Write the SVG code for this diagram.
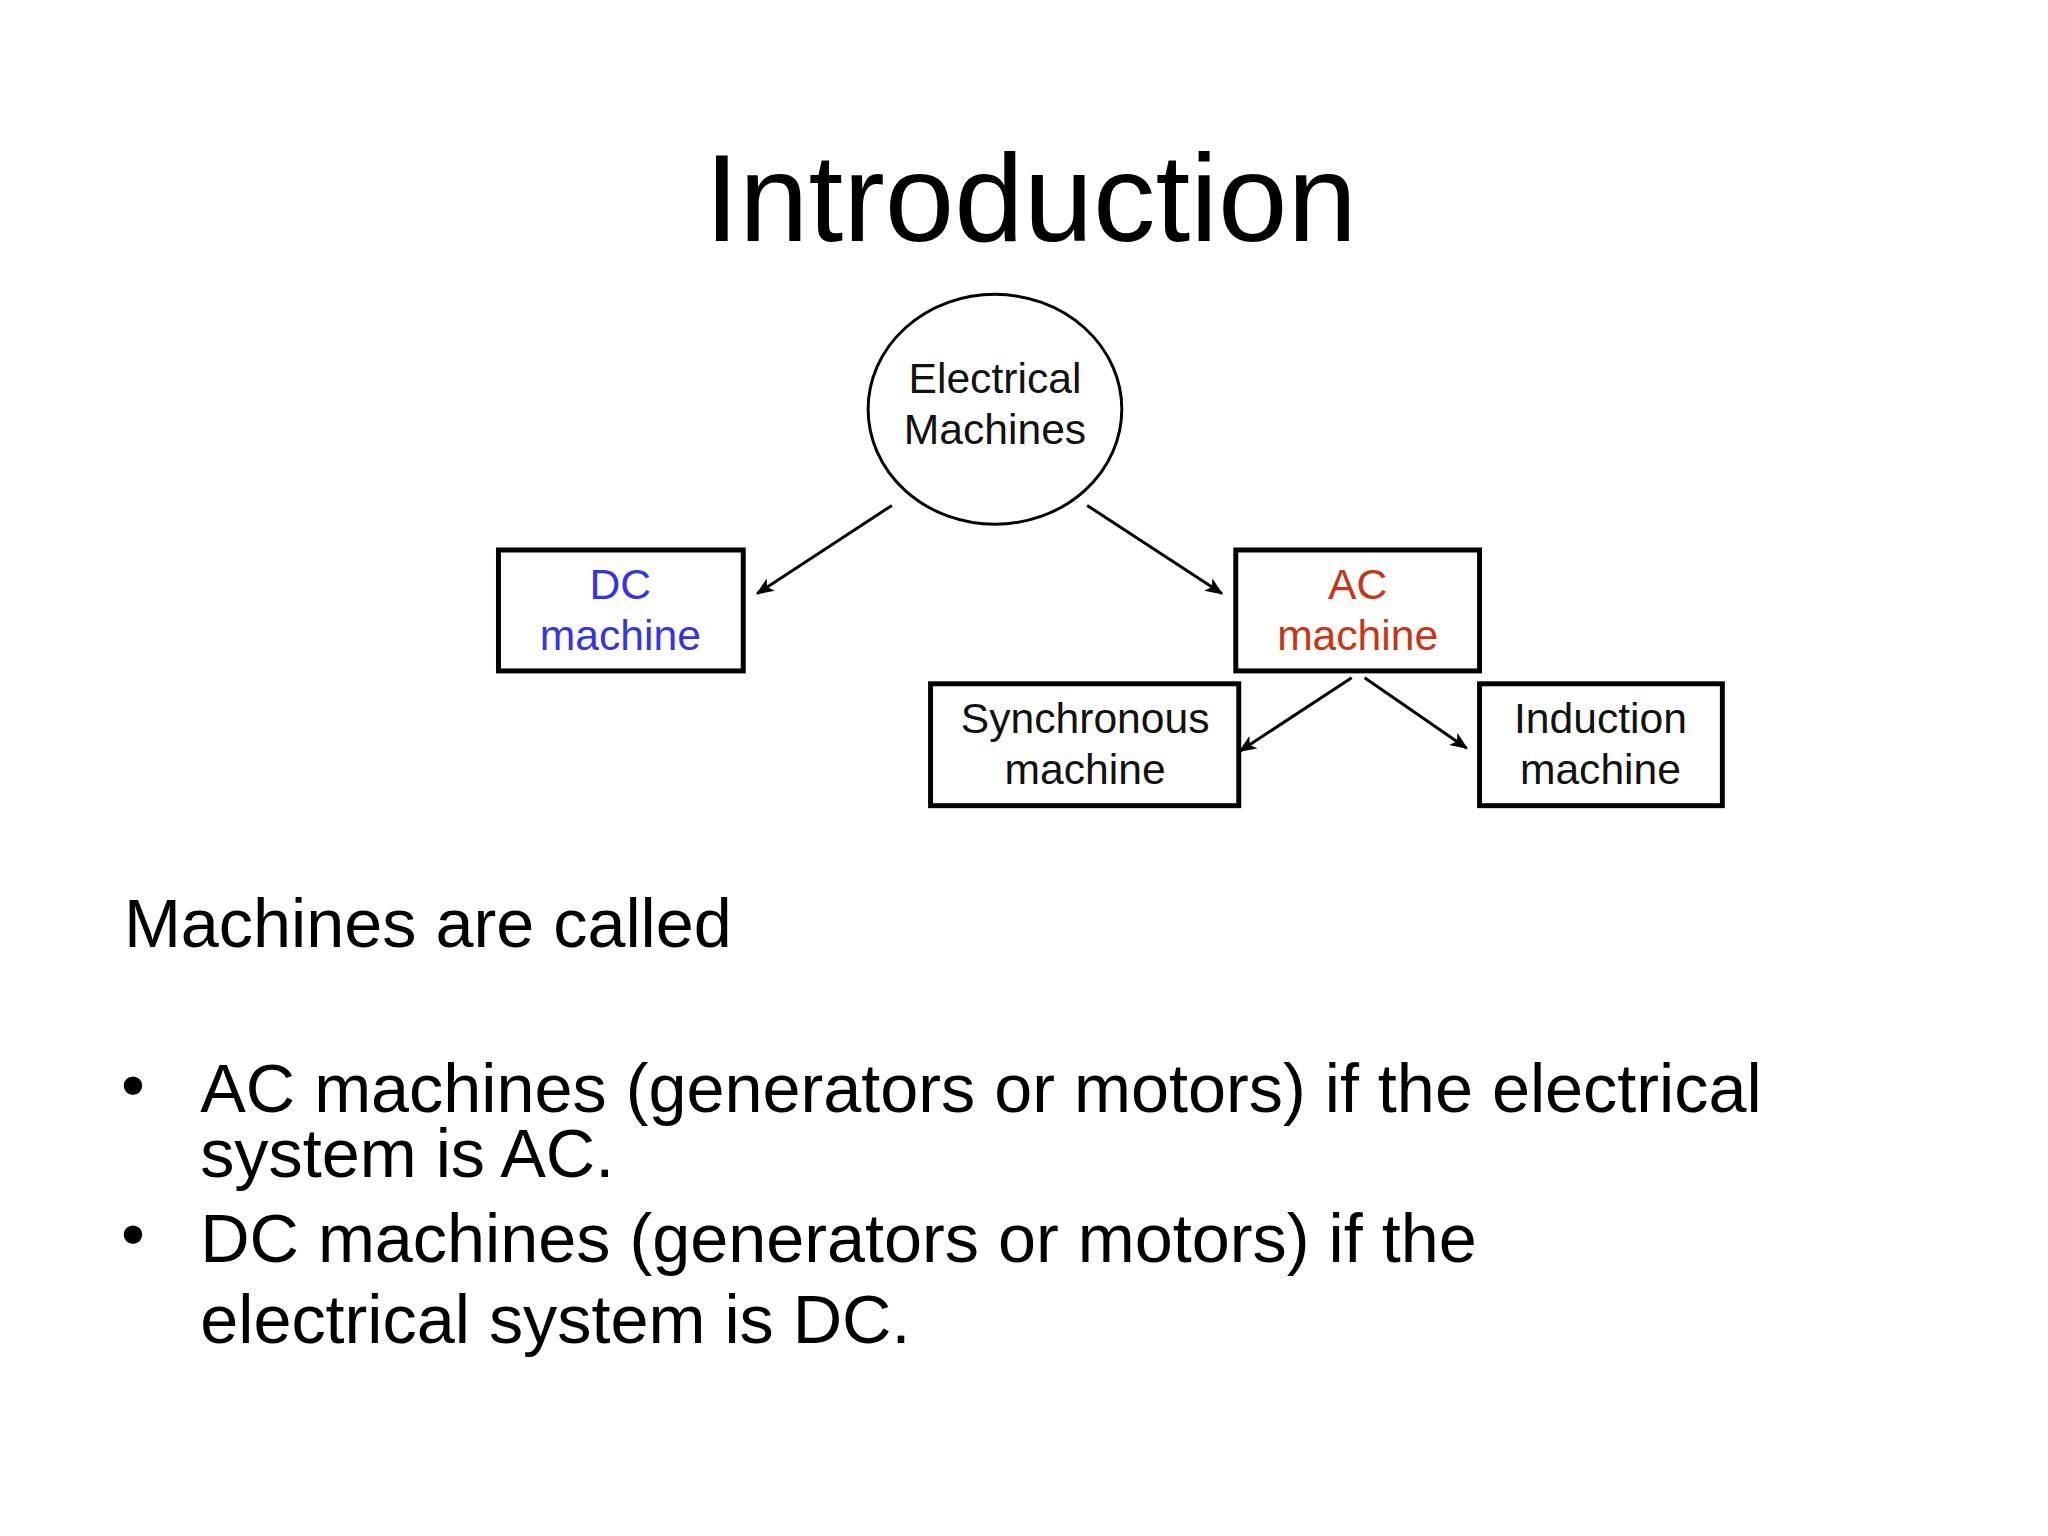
<svg xmlns="http://www.w3.org/2000/svg" width="2048" height="1536" viewBox="0 0 2048 1536">
<defs>
<style>
.t{font-family:"Liberation Sans",Arial,sans-serif}
.n{font-family:"Liberation Sans",Arial,sans-serif;font-size:43px;text-anchor:middle;fill:#111}
.b{fill:#fff;stroke:#000;stroke-width:5}
.c{stroke:#000;stroke-width:3;fill:none;marker-end:url(#a)}
.body{font-family:"Liberation Sans",Arial,sans-serif;font-size:69px;fill:#000}
</style>
<marker id="a" viewBox="0 0 12 10" refX="11" refY="5" markerWidth="6" markerHeight="5" orient="auto" markerUnits="strokeWidth"><path d="M0,0 L12,5 L0,10 L3,5 z" fill="#000"/></marker>
</defs>
<rect width="2048" height="1536" fill="#fff"/>
<g transform="scale(0.991)">
<text class="t" x="1040" y="243" font-size="126" text-anchor="middle">Introduction</text>
<g id="connectors">
<line class="c" x1="900" y1="510" x2="764" y2="599"/>
<line class="c" x1="1097" y1="510" x2="1233" y2="599"/>
<line class="c" x1="1364" y1="684" x2="1251" y2="758"/>
<line class="c" x1="1377" y1="684" x2="1480" y2="755"/>
</g>
<g id="electrical"><ellipse cx="1004" cy="413" rx="128" ry="116" fill="#fff" stroke="#000" stroke-width="3"/>
<text class="n" x="1004" y="397">Electrical</text><text class="n" x="1004" y="448">Machines</text></g>
<g id="dc"><rect class="b" x="503" y="555" width="247" height="122"/>
<text class="n" x="626" y="604" style="fill:#3333ee">DC</text><text class="n" x="626" y="656" style="fill:#3333ee">machine</text></g>
<g id="ac"><rect class="b" x="1247" y="555" width="246" height="122"/>
<text class="n" x="1370" y="604" style="fill:#cc3311">AC</text><text class="n" x="1370" y="656" style="fill:#cc3311">machine</text></g>
<g id="sync"><rect class="b" x="939" y="690" width="311" height="123"/>
<text class="n" x="1095" y="740">Synchronous</text><text class="n" x="1095" y="791">machine</text></g>
<g id="induction"><rect class="b" x="1493" y="690" width="245" height="123"/>
<text class="n" x="1615" y="740">Induction</text><text class="n" x="1615" y="791">machine</text></g>
<text class="body" x="125" y="956">Machines are called</text>
<text class="body" x="122" y="1118">•</text>
<text class="body" x="202" y="1122">AC machines (generators or motors) if the electrical</text>
<text class="body" x="202" y="1188">system is AC.</text>
<text class="body" x="122" y="1268">•</text>
<text class="body" x="202" y="1273">DC machines (generators or motors) if the</text>
<text class="body" x="202" y="1355">electrical system is DC.</text>
</g>
</svg>
